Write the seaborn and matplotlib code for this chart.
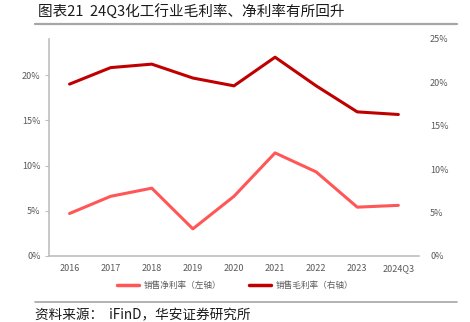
import matplotlib
matplotlib.use("Agg")
import matplotlib.pyplot as plt
from matplotlib.lines import Line2D
from matplotlib.ticker import FuncFormatter, FixedLocator
import seaborn as sns
import pandas as pd

# Annual ratios of the chemical industry
periods = ["2016", "2017", "2018", "2019", "2020", "2021", "2022", "2023", "2024Q3"]
net_margin = [4.7, 6.6, 7.5, 3.0, 6.6, 11.4, 9.3, 5.4, 5.6]        # left axis, %
gross_margin = [19.8, 21.7, 22.1, 20.5, 19.6, 22.9, 19.6, 16.6, 16.3]  # right axis, %

sns.set_theme(style="white")
plt.rcParams["font.family"] = ["Noto Sans CJK SC", "DejaVu Sans"]
plt.rcParams["axes.unicode_minus"] = False

df = pd.DataFrame({"period": periods, "net": net_margin, "gross": gross_margin})
df["x"] = range(len(periods))

fig = plt.figure(figsize=(4.7, 3.22), dpi=100)
ax = fig.add_axes([0.1043, 0.205, 0.787, 0.674])
ax2 = ax.twinx()

net_color = "#FF5757"
gross_color = "#C00000"
tick_gray = "#595959"
axis_gray = "#BFBFBF"

sns.lineplot(data=df, x="x", y="net", ax=ax, color=net_color, linewidth=2.2)
sns.lineplot(data=df, x="x", y="gross", ax=ax2, color=gross_color, linewidth=2.2)

ax.set_xlim(-0.5, len(periods) - 0.5)
ax.set_ylim(0, 24)
ax2.set_ylim(0, 25)
ax.set_yticks([0, 5, 10, 15, 20])
ax2.set_yticks([0, 5, 10, 15, 20, 25])
pct = FuncFormatter(lambda v, _: f"{v:.0f}%")
ax.yaxis.set_major_formatter(pct)
ax2.yaxis.set_major_formatter(pct)

# category labels centred, ticks on category boundaries
ax.set_xticks(df["x"])
ax.set_xticklabels(periods)
ax.xaxis.set_minor_locator(FixedLocator([i + 0.5 for i in range(-1, len(periods))]))
ax.tick_params(axis="x", which="major", length=0, pad=6, labelsize=6.5, labelcolor=tick_gray)
ax.tick_params(axis="x", which="minor", length=3, width=0.8, color=axis_gray, direction="out")
ax.tick_params(axis="y", length=3, width=0.8, color=axis_gray, labelsize=6.5,
               labelcolor=tick_gray, pad=3)
ax2.tick_params(axis="y", length=0, labelsize=6.5, labelcolor=tick_gray, pad=8)

ax.set_xlabel("")
ax.set_ylabel("")
ax2.set_ylabel("")
for side in ["top", "right"]:
    ax.spines[side].set_visible(False)
for side in ["top", "right", "left", "bottom"]:
    ax2.spines[side].set_visible(False)
ax.spines["left"].set_color(axis_gray)
ax.spines["bottom"].set_color(axis_gray)
ax.spines["left"].set_linewidth(1.2)
ax.spines["bottom"].set_linewidth(1.2)

handles = [Line2D([], [], color=net_color, linewidth=2.5),
           Line2D([], [], color=gross_color, linewidth=2.5)]
fig.legend(handles, ["销售净利率（左轴）", "销售毛利率（右轴）"],
           loc="center", bbox_to_anchor=(0.50, 0.112), ncol=2, frameon=False,
           fontsize=6.2, labelcolor=tick_gray, handlelength=2.6, columnspacing=3.2,
           handletextpad=0.5)

# header and footer
fig.text(0.081, 0.962, "图表21  24Q3化工行业毛利率、净利率有所回升", fontsize=10.5,
         fontweight="medium", color="#1A1A1A", va="center", ha="left")
fig.add_artist(Line2D([0.074, 0.972], [0.927, 0.927], color="#A6A6A6", linewidth=1.6))
fig.add_artist(Line2D([0.074, 0.972], [0.062, 0.062], color="#A6A6A6", linewidth=1.2))
fig.text(0.074, 0.022, "资料来源：  iFinD，华安证券研究所", fontsize=9.8, style="italic",
         color="#1A1A1A", va="center", ha="left")

fig.savefig("out.png", dpi=100)
